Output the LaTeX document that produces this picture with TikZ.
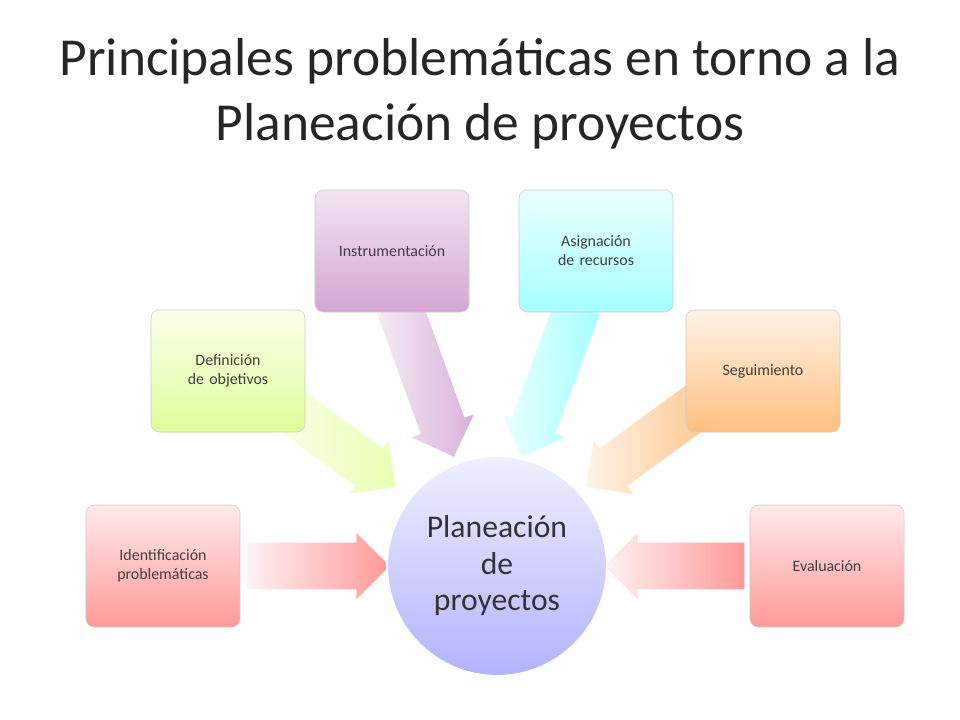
\documentclass[tikz,border=0pt]{standalone}
\usepackage{fontspec}
\setmainfont{Carlito}
\usetikzlibrary{shapes.arrows,calc,positioning}

\tikzset{
  topic/.style={draw=black!20, rounded corners=6pt, minimum width=3.85cm, minimum height=3.05cm,
    text width=3.1cm, align=center, font=\fontsize{11.3}{13.5}\selectfont, text=black!75},
  hub/.style={circle, draw=white, line width=1.5pt, minimum size=5.5cm, align=center,
    font=\fontsize{22.5}{26}\selectfont, text=black!80},
  pointer/.style={single arrow, inner xsep=0pt, inner ysep=0.575cm, minimum width=0pt,
    single arrow head extend=0.25cm, single arrow head indent=0pt, draw=none}
}
\newcommand{\pointer}[4]{%
  \path let \p1=($(#2)-(#1)$), \n1={atan2(\y1,\x1)}, \n2={veclen(\x1,\y1)} in
    node[pointer, minimum height=\n2, rotate=\n1, left color=#3, right color=#4]
    at ($(#1)!0.5!(#2)$) {};}

\begin{document}
\begin{tikzpicture}[x=0.025cm,y=-0.025cm]
  \useasboundingbox (0,0) rectangle (960,720);

  % title
  \node[font=\fontsize{38}{46}\selectfont, text=black!85, align=center] (title) at (480,94)
    {Principales problemáticas en torno a la\\Planeación de proyectos};

  % arrow ends
  \coordinate (t1) at (235,566);  \coordinate (h1) at (378,566);
  \coordinate (t2) at (270,395);  \coordinate (h2) at (386,480);
  \coordinate (t3) at (395,295);  \coordinate (h3) at (450,446);
  \coordinate (t4) at (582,295);  \coordinate (h4) at (526,446);
  \coordinate (t5) at (712,395);  \coordinate (h5) at (596,480);
  \coordinate (t6) at (756,566);  \coordinate (h6) at (616,566);

  \pointer{t1}{h1}{red!5}{red!40}
  \pointer{t2}{h2}{green!10!yellow!8}{green!30!yellow!30}
  \pointer{t3}{h3}{violet!8}{violet!30}
  \pointer{t4}{h4}{cyan!8}{cyan!35}
  \pointer{t5}{h5}{orange!10}{orange!45}
  \pointer{t6}{h6}{red!5}{red!40}

  % topics
  \node[topic, top color=red!8, bottom color=red!40] (ident) at (163,566) {Identificación problemáticas};
  \node[topic, top color=green!10!yellow!8, bottom color=green!35!yellow!40] (defin) at (228,371) {Definición de objetivos};
  \node[topic, top color=violet!10, bottom color=violet!35] (instr) at (392,251) {Instrumentación};
  \node[topic, top color=cyan!8, bottom color=cyan!35] (asign) at (596,251) {Asignación de recursos};
  \node[topic, top color=orange!10, bottom color=orange!50] (segui) at (763,371) {Seguimiento};
  \node[topic, top color=red!8, bottom color=red!40] (evalu) at (827,566) {Evaluación};

  \node[hub, top color=blue!6, bottom color=blue!30] (plan) at (497,566) {Planeación\\de\\proyectos};
\end{tikzpicture}
\end{document}
